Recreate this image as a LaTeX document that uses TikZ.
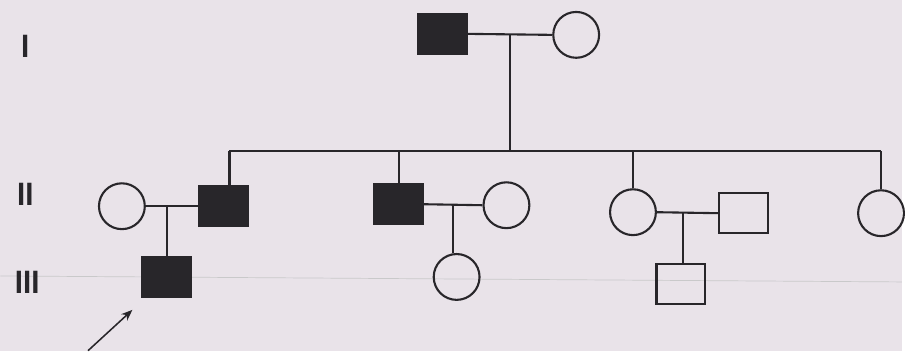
\documentclass[tikz,border=0pt]{standalone}
\usepackage{fontspec}
\setsansfont{Liberation Sans}
\usetikzlibrary{arrows.meta, positioning, calc}
\definecolor{paper}{RGB}{233,227,233}
\definecolor{ink}{RGB}{40,38,42}

\begin{document}
\begin{tikzpicture}[
    x=0.025cm, y=-0.025cm,
    male/.style={draw=ink, line width=1.5pt, minimum width=1.22cm, minimum height=1.0cm, inner sep=0pt},
    affm/.style={male, fill=ink},
    female/.style={draw=ink, line width=1.5pt, circle, minimum size=1.15cm, inner sep=0pt},
    gen/.style={font=\sffamily\bfseries\fontsize{21}{21}\selectfont, text=ink, yscale=1.1},
    ln/.style={draw=ink, line width=1.5pt},
    arr/.style={-{Stealth[length=2.8mm, width=2.2mm]}, draw=ink, line width=1.1pt}
]
\fill[paper] (0,0) rectangle (905,352);
\draw[ink!25, line width=0.5pt] (0,277) -- (905,283);

% generation labels
\node[gen] (gI) at (25,47) {I};
\node[gen] (gII) at (25,195) {II};
\node[gen] (gIII) at (27,283) {III};

% generation I
\node[affm] (f1) at (444,34) {};
\node[female] (m1) at (578,35) {};

% generation II
\node[female] (a) at (122,207) {};
\node[affm] (b) at (224,207) {};
\node[affm] (c) at (400,205) {};
\node[female] (d) at (508,206) {};
\node[female] (e) at (635,213) {};
\node[male] (f) at (746,214) {};
\node[female] (g) at (884,214) {};

% generation III
\node[affm] (p) at (167,278) {};
\node[female] (h) at (458,278) {};
\node[male] (k) at (683,285) {};

% couples
\coordinate (u1) at ($(f1.east)!0.5!(m1.west)$);
\coordinate (u2) at ($(a.east)!0.4!(b.west)$);
\coordinate (u3) at ($(c.east)!0.5!(d.west)$);
\coordinate (u4) at ($(e.east)!0.42!(f.west)$);
\draw[ln] (f1.east) -- (m1.west);
\draw[ln] (a.east) -- (b.west);
\draw[ln] (c.east) -- (d.west);
\draw[ln] (e.east) -- (f.west);

% sibship
\coordinate (sibL) at (230,152);
\coordinate (sibR) at (884,152);
\draw[ln] (sibL) -- (sibR);
\draw[ln] (u1) -- (u1 |- sibL);
\draw[ln] (b.north -| sibL) -- (sibL);
\draw[ln] (c.north) -- (c.north |- sibL);
\draw[ln] (e.north) -- (e.north |- sibL);
\draw[ln] (g.north) -- (sibR);

% children
\draw[ln] (u2) -- (u2 |- p.north);
\draw[ln] (u3) -- (u3 |- h.north);
\draw[ln] (u4) -- (u4 |- k.north);

% proband
\coordinate (pt) at (88,352);
\draw[arr] (pt) -- ($(p.south west)+(-9,12)$);
\end{tikzpicture}
\end{document}
